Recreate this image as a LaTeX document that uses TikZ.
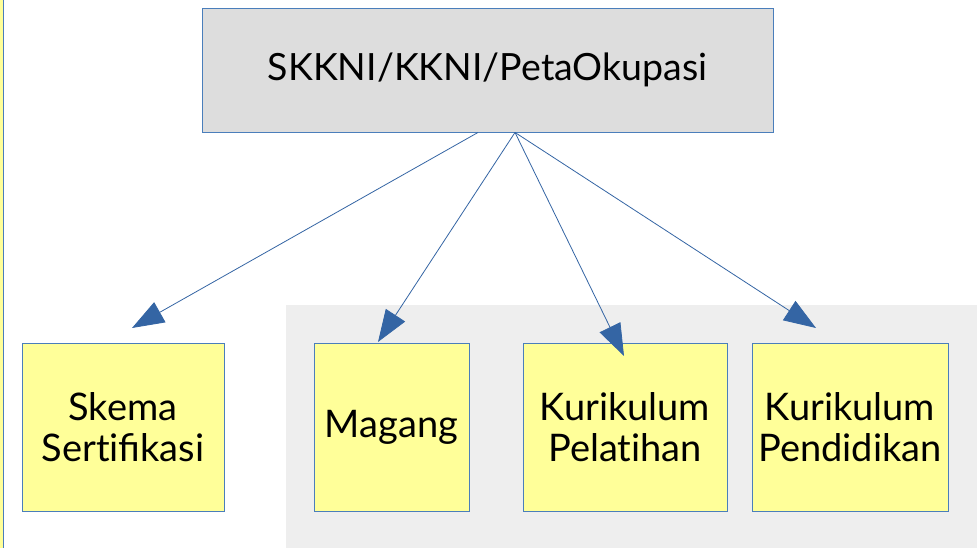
\documentclass[tikz,border=0pt]{standalone}
\usepackage{fontspec}
\setmainfont{Lato}
\usetikzlibrary{arrows.meta}
\definecolor{edgeblue}{HTML}{4A7EBB}
\definecolor{arrowblue}{HTML}{3465A4}
\definecolor{topfill}{HTML}{DDDDDD}
\definecolor{panelgray}{HTML}{EEEEEE}
\definecolor{boxyellow}{HTML}{FFFF99}
\tikzset{
  topbox/.style={draw=edgeblue, line width=0.9pt, fill=topfill, minimum width=571pt, minimum height=124pt,
    inner sep=0pt, font=\fontsize{37.5}{44}\selectfont},
  leafbox/.style={draw=edgeblue, line width=0.9pt, fill=boxyellow, minimum height=168pt,
    inner sep=0pt, align=center, font=\fontsize{38}{41}\selectfont},
  link/.style={draw=arrowblue, line width=0.8pt, -{Triangle[length=32pt,width=23pt]}}
}
\begin{document}
\begin{tikzpicture}[x=1pt,y=-1pt]
  \useasboundingbox (0,0) rectangle (977,548);
  \fill[white] (0,0) rectangle (977,548);
  % edge of a neighbouring box on the left
  \begin{scope}
    \clip (0,0) rectangle (977,548);
    \filldraw[fill=boxyellow, draw=edgeblue, line width=0.9pt] (-20,-20) rectangle (3,570);
  \end{scope}
  % shaded panel behind the training boxes
  \fill[panelgray] (286,305) rectangle (977,548);

  \node[topbox] (top) at (487.5,70) {SKKNI/KKNI/PetaOkupasi};

  \node[leafbox, minimum width=202pt] (skema) at (123,427) {Skema\\Sert\kern0pt ifikasi};
  \node[leafbox, minimum width=155pt] (magang) at (391.5,427) {Magang};
  \node[leafbox, minimum width=204pt] (pelatihan) at (625,427) {Kurikulum\\Pelat\kern0pt ihan};
  \node[leafbox, minimum width=196pt] (pendidikan) at (850,427) {Kurikulum\\Pendidikan};

  % arrow start points on the lower edge of the top box
  \coordinate (s1) at (top.south -| 478,0);
  \coordinate (s2) at (top.south -| 515,0);
  % arrow tips
  \coordinate (t1) at (132,328);
  \coordinate (t2) at (378,342);
  \coordinate (t3) at (624,356);
  \coordinate (t4) at (816,328);

  \draw[link] (s1) -- (t1);
  \draw[link] (s2) -- (t2);
  \draw[link] (s2) -- (t3);
  \draw[link] (s2) -- (t4);
\end{tikzpicture}
\end{document}
